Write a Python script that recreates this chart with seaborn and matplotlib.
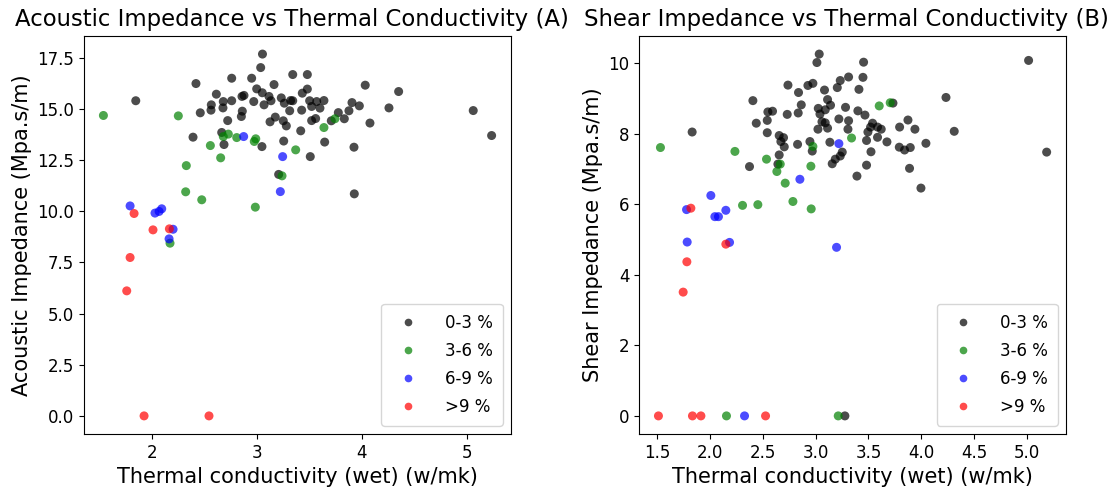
import numpy as np
import pandas as pd
import matplotlib
matplotlib.use("Agg")
import matplotlib.pyplot as plt
import seaborn as sns

categories = ["0-3 %", "3-6 %", "6-9 %", ">9 %"]
colors = ["black", "green", "blue", "red"]

# ---- Panel A: Acoustic impedance vs thermal conductivity ----
a_x_03 = [3.054, 3.037, 2.421, 2.761, 2.951, 3.342, 3.481, 3.164, 4.032, 1.848,
          2.615, 2.878, 2.859, 2.999, 3.052, 3.116, 3.135, 3.233, 3.322, 3.433,
          3.481, 3.503, 3.570, 3.639, 3.906, 3.976, 4.258, 2.567, 2.681, 2.761,
          2.971, 3.069, 3.262, 3.342, 2.564, 2.678, 2.462, 2.862, 2.853, 3.313,
          3.427, 3.522, 3.601, 3.776, 3.877, 3.833, 3.709, 3.176, 3.126, 3.252,
          3.281, 2.723, 3.522, 3.560, 3.418, 4.077, 2.666, 2.393, 2.688, 3.049,
          3.256, 3.646, 3.509, 3.925, 3.208, 3.928, 5.060, 5.235, 4.350]
a_y_03 = [17.68, 17.02, 16.24, 16.50, 16.50, 16.68, 16.68, 16.19, 16.16, 15.40,
          15.72, 15.66, 15.61, 15.98, 15.79, 15.61, 15.40, 15.54, 15.41, 15.77,
          15.97, 15.40, 15.36, 15.41, 15.31, 15.15, 15.05, 15.20, 15.36, 15.40,
          15.36, 15.20, 15.28, 15.40, 14.94, 15.05, 14.81, 14.89, 14.63, 14.91,
          14.94, 15.12, 15.04, 14.82, 14.91, 14.52, 14.42, 14.60, 14.37, 14.42,
          14.17, 14.43, 14.43, 14.53, 13.93, 14.31, 13.85, 13.62, 13.26, 13.16,
          13.43, 13.38, 12.67, 13.13, 11.80, 10.85, 14.92, 13.70, 15.85]
a_x_36 = [1.540, 2.253, 2.681, 2.729, 2.809, 2.990, 2.976, 2.558, 2.656, 3.370,
          3.639, 3.744, 2.329, 3.240, 2.323, 2.476, 2.986, 2.174]
a_y_36 = [14.68, 14.66, 13.65, 13.77, 13.60, 13.54, 13.41, 13.21, 12.61, 13.00,
          14.09, 14.52, 12.23, 11.73, 10.95, 10.56, 10.20, 8.44]
a_x_69 = [2.875, 3.246, 3.224, 1.794, 2.031, 2.070, 2.095, 2.203, 2.165]
a_y_69 = [13.65, 12.67, 10.96, 10.26, 9.91, 9.99, 10.12, 9.12, 8.65]
a_x_9 = [1.832, 2.012, 2.168, 1.794, 1.762, 1.927, 2.545]
a_y_9 = [9.89, 9.09, 9.14, 7.74, 6.11, 0.0, 0.0]

# ---- Panel B: Shear impedance vs thermal conductivity ----
b_x_03 = [3.034, 3.012, 3.454, 3.312, 3.448, 3.233, 3.205, 3.410, 2.738, 2.927,
          2.974, 2.838, 3.084, 2.406, 2.864, 3.113, 3.141, 3.025, 3.091, 3.041,
          2.548, 2.592, 2.731, 2.835, 3.283, 3.400, 3.467, 2.542, 2.438, 3.220,
          3.312, 3.060, 3.091, 3.022, 3.113, 3.306, 3.539, 3.586, 3.520, 3.495,
          2.542, 2.655, 2.696, 2.671, 2.703, 2.829, 2.946, 2.968, 3.135, 3.586,
          3.482, 3.675, 3.524, 3.252, 3.233, 3.186, 3.157, 2.655, 2.643, 2.374,
          3.482, 3.391, 1.831, 5.016, 4.234, 4.312, 5.187, 3.732, 3.621, 3.795,
          3.874, 3.940, 3.792, 3.842, 3.896, 4.044, 3.889, 3.997, 3.277]
b_y_03 = [10.26, 10.02, 10.03, 9.61, 9.60, 9.51, 9.31, 9.26, 9.38, 9.37,
          9.43, 9.17, 9.24, 8.94, 8.82, 8.97, 8.81, 8.72, 8.68, 8.56,
          8.62, 8.64, 8.55, 8.59, 8.75, 8.65, 8.53, 8.38, 8.30, 8.42,
          8.37, 8.34, 8.31, 8.13, 8.16, 8.13, 8.30, 8.19, 8.19, 8.05,
          8.03, 7.95, 7.89, 7.78, 7.63, 7.70, 7.78, 7.51, 7.76, 7.90,
          7.81, 7.77, 7.49, 7.48, 7.37, 7.28, 7.15, 7.40, 7.14, 7.07,
          7.11, 6.80, 8.05, 10.08, 9.03, 8.07, 7.48, 8.87, 8.13, 8.19,
          8.39, 8.13, 7.62, 7.54, 7.61, 7.73, 7.02, 6.46, 0.0]
b_x_36 = [1.531, 2.236, 2.535, 2.665, 2.633, 2.974, 2.955, 3.340, 3.602, 3.706,
          2.712, 2.308, 2.453, 2.785, 2.958, 2.156, 3.214]
b_y_36 = [7.61, 7.50, 7.28, 7.14, 6.93, 7.64, 7.08, 7.88, 8.79, 8.88,
          6.60, 5.97, 5.99, 6.08, 5.87, 0.0, 0.0]
b_x_69 = [3.220, 2.851, 2.008, 1.778, 2.046, 2.080, 2.150, 1.784, 2.185, 3.198, 2.327]
b_y_69 = [7.72, 6.71, 6.25, 5.85, 5.65, 5.65, 5.83, 4.93, 4.92, 4.78, 0.0]
b_x_9 = [1.819, 2.150, 1.781, 1.746, 1.512, 1.834, 1.914, 2.526]
b_y_9 = [5.89, 4.87, 4.37, 3.51, 0.0, 0.0, 0.0, 0.0]


def frame(xs, ys):
    parts = []
    for cat, x, y in zip(categories, xs, ys):
        parts.append(pd.DataFrame({"x": x, "y": y, "Porosity": cat}))
    return pd.concat(parts, ignore_index=True)


df_a = frame([a_x_03, a_x_36, a_x_69, a_x_9], [a_y_03, a_y_36, a_y_69, a_y_9])
df_b = frame([b_x_03, b_x_36, b_x_69, b_x_9], [b_y_03, b_y_36, b_y_69, b_y_9])

sns.set_style("ticks")
plt.rcParams["font.family"] = ["DejaVu Sans"]
plt.rcParams["text.color"] = "black"
plt.rcParams["axes.labelcolor"] = "black"
plt.rcParams["xtick.color"] = "black"
plt.rcParams["ytick.color"] = "black"
palette = dict(zip(categories, colors))

fig = plt.figure(figsize=(11.17, 4.93), dpi=100)
ax1 = fig.add_axes([0.0752, 0.1197, 0.3823, 0.8073])
ax2 = fig.add_axes([0.5721, 0.1197, 0.3823, 0.8073])

for ax, df, title, ylabel in [
    (ax1, df_a, "Acoustic Impedance vs Thermal Conductivity (A)", "Acoustic Impedance (Mpa.s/m)"),
    (ax2, df_b, "Shear Impedance vs Thermal Conductivity (B)", "Shear Impedance (Mpa.s/m)"),
]:
    sns.scatterplot(data=df, x="x", y="y", hue="Porosity", hue_order=categories,
                    palette=palette, alpha=0.7, s=42, edgecolor="none", ax=ax)
    ax.set_title(title, fontsize=16.4, pad=7, x=0.486)
    ax.set_xlabel("Thermal conductivity (wet) (w/mk)", fontsize=15)
    ax.set_ylabel(ylabel, fontsize=15)
    ax.tick_params(labelsize=12)
    for sp in ax.spines.values():
        sp.set_color("black")
        sp.set_linewidth(0.8)
    ax.legend(loc="lower right", fontsize=12, title=None, labelspacing=0.6,
              handletextpad=1.2, borderpad=0.6, markerscale=0.85)

ax2.set_xticks([1.5, 2.0, 2.5, 3.0, 3.5, 4.0, 4.5, 5.0])
ax1.set_yticks([0, 2.5, 5, 7.5, 10, 12.5, 15, 17.5])

fig.savefig("out.png", dpi=100)
